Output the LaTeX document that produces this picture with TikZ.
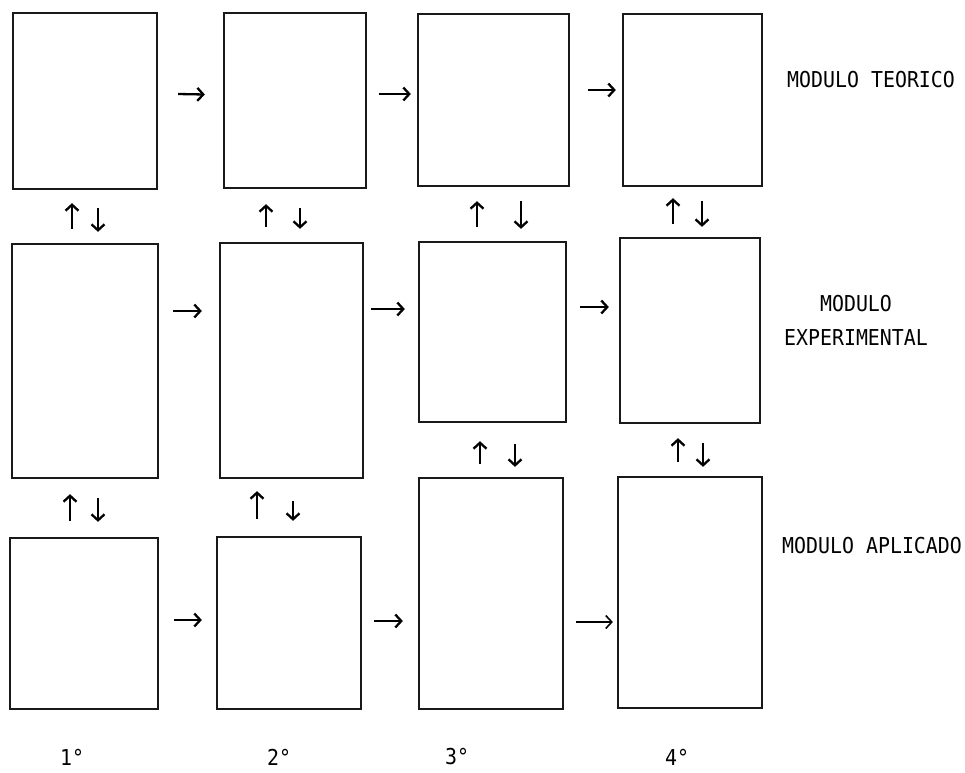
\documentclass[tikz,border=0pt]{standalone}
\usepackage{fontspec}
\setmonofont{DejaVu Sans Mono}
\usetikzlibrary{arrows.meta,calc}
\tikzset{
  box/.style={draw=black!90, line width=2.3pt, inner sep=0pt, rectangle},
  arr/.style={draw=black, line width=2.3pt, -{Straight Barb[length=6pt,width=13pt]}},
  thinarr/.style={draw=black, line width=1.6pt, -{Straight Barb[length=6pt,width=13pt]}},
  lbl/.style={font=\ttfamily\fontsize{19.9}{34}\selectfont, inner sep=0pt, text=black},
}
\newcommand{\tallt}[1]{\scalebox{1}[1.1]{#1}}
\begin{document}
\begin{tikzpicture}[x=1pt,y=-1pt]
\useasboundingbox (0,0) rectangle (965,772);
% boxes: center, width, height
\node[box, minimum width=144pt, minimum height=176pt] (T1) at (85,101) {};
\node[box, minimum width=142pt, minimum height=175pt] (T2) at (295,100.5) {};
\node[box, minimum width=151pt, minimum height=172pt] (T3) at (493.5,100) {};
\node[box, minimum width=139pt, minimum height=172pt] (T4) at (692.5,100) {};
\node[box, minimum width=146pt, minimum height=234pt] (E1) at (85,361) {};
\node[box, minimum width=143pt, minimum height=235pt] (E2) at (291.5,360.5) {};
\node[box, minimum width=147pt, minimum height=180pt] (E3) at (492.5,332) {};
\node[box, minimum width=140pt, minimum height=185pt] (E4) at (690,330.5) {};
\node[box, minimum width=148pt, minimum height=171pt] (A1) at (84,623.5) {};
\node[box, minimum width=144pt, minimum height=172pt] (A2) at (289,623) {};
\node[box, minimum width=144pt, minimum height=231pt] (A3) at (491,593.5) {};
\node[box, minimum width=144pt, minimum height=231pt] (A4) at (690,592.5) {};
% horizontal arrows
\draw[arr] ($(T1.east)+(20,-7)$) -- ($(T2.west)+(-18,-6)$);
\draw[arr] ($(T2.east)+(12,-6.5)$) -- ($(T3.west)+(-6,-6)$);
\draw[arr] ($(T3.east)+(18,-10)$) -- ($(T4.west)+(-6,-10)$);
\draw[arr] ($(E1.east)+(14,-50)$) -- ($(E2.west)+(-17,-49.5)$);
\draw[arr] ($(E2.east)+(7,-51.5)$) -- ($(E3.west)+(-13,-23)$);
\draw[arr] ($(E3.east)+(13,-25)$) -- ($(E4.west)+(-10,-23.5)$);
\draw[arr] ($(A1.east)+(15,-3.5)$) -- ($(A2.west)+(-14,-3)$);
\draw[arr] ($(A2.east)+(12,-2)$) -- ($(A3.west)+(-15,27.5)$);
\draw[thinarr] ($(A3.east)+(12,28.5)$) -- ($(A4.west)+(-4,29.5)$);
% vertical arrows T <-> E
\draw[arr] ($(E1.north)+(-13,-14)$) -- ($(T1.south)+(-13,13)$);
\draw[arr] ($(T1.south)+(13,18)$) -- ($(E1.north)+(13,-11)$);
\draw[arr] ($(E2.north)+(-25.5,-15)$) -- ($(T2.south)+(-29,15)$);
\draw[arr] ($(T2.south)+(5,19)$) -- ($(E2.north)+(8.5,-13)$);
\draw[arr] ($(E3.north)+(-15.5,-14)$) -- ($(T3.south)+(-16.5,14)$);
\draw[arr] ($(T3.south)+(27.5,14)$) -- ($(E3.north)+(28.5,-12)$);
\draw[arr] ($(E4.north)+(-17,-13)$) -- ($(T4.south)+(-19.5,11)$);
\draw[arr] ($(T4.south)+(9.5,14)$) -- ($(E4.north)+(12,-10)$);
% vertical arrows E <-> A
\draw[arr] ($(A1.north)+(-14,-16)$) -- ($(E1.south)+(-15,15)$);
\draw[arr] ($(E1.south)+(13,19)$) -- ($(A1.north)+(14,-15)$);
\draw[arr] ($(A2.north)+(-32,-17)$) -- ($(E2.south)+(-34.5,12)$);
\draw[arr] ($(E2.south)+(1.5,22)$) -- ($(A2.north)+(4,-15)$);
\draw[arr] ($(A3.north)+(-11,-13)$) -- ($(E3.south)+(-12.5,18)$);
\draw[arr] ($(E3.south)+(22.5,21)$) -- ($(A3.north)+(24,-10)$);
\draw[arr] ($(A4.north)+(-12,-14)$) -- ($(E4.south)+(-12,14)$);
\draw[arr] ($(E4.south)+(13,19)$) -- ($(A4.north)+(13,-9)$);
% labels
\node[lbl, anchor=west] (LT) at (787,80) {\tallt{MODULO TEORICO}};
\node[lbl, align=center] (LE1) at (856,304) {\tallt{MODULO}};
\node[lbl, align=center] (LE2) at (856,338) {\tallt{EXPERIMENTAL}};
\node[lbl, anchor=west] (LA) at (782,546) {\tallt{MODULO APLICADO}};
\node[lbl] (Y1) at (72,757) {\tallt{1°}};
\node[lbl] (Y2) at (279,757) {\tallt{2°}};
\node[lbl] (Y3) at (457,757) {\tallt{3°}};
\node[lbl] (Y4) at (677,757) {\tallt{4°}};
\end{tikzpicture}
\end{document}
